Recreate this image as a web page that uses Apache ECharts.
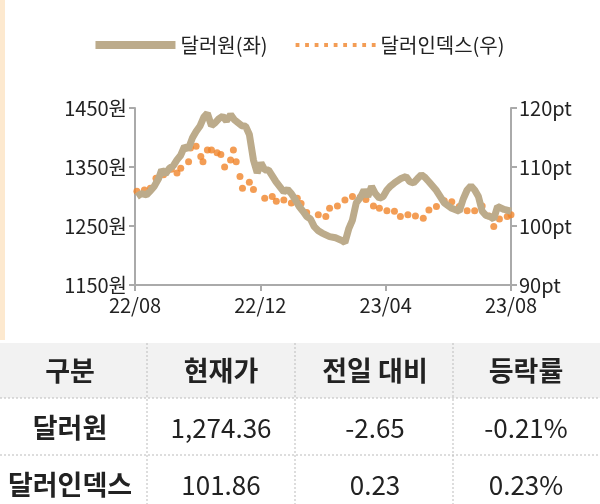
<!DOCTYPE html>
<html><head><meta charset="utf-8">
<script src="https://cdn.jsdelivr.net/npm/echarts@6/dist/echarts.min.js"></script>
<style>html,body{margin:0;padding:0;background:#fff}#c{width:600px;height:504px}</style>
</head><body><div id="c"></div>
<script>
const xTickLabels = ['22/08','22/12','23/04','23/08'];
// x positions in months from 22/08
const krwMonths = [0.06,0.2,0.37,0.5,0.61,0.75,0.85,0.97,1.1,1.22,1.34,1.46,1.58,1.7,1.83,1.95,2.07,2.2,2.31,2.44,2.56,2.68,2.8,2.92,3.05,3.17,3.29,3.41,3.53,3.65,3.78,3.9,4.02,4.14,4.26,4.5,4.75,4.87,4.99,5.11,5.24,5.36,5.48,5.6,5.72,5.85,5.97,6.09,6.21,6.4,6.58,6.7,6.82,6.94,7.06,7.19,7.31,7.43,7.55,7.67,7.8,7.92,8.04,8.16,8.28,8.47,8.65,8.77,8.89,9.01,9.14,9.26,9.38,9.62,9.87,10.11,10.35,10.47,10.6,10.72,10.84,10.96,11.08,11.2,11.33,11.45,11.57,11.78,12.0];
const krwValues = [1300,1305,1303,1310,1317,1330,1345,1338,1348,1352,1362,1370,1385,1380,1399,1410,1419,1435,1441,1420,1425,1432,1436,1428,1439,1430,1425,1420,1419,1405,1362,1340,1357,1345,1345,1325,1308,1312,1305,1295,1283,1275,1266,1262,1249,1242,1238,1235,1232,1230,1226,1222,1245,1260,1289,1298,1311,1300,1317,1305,1297,1300,1311,1318,1323,1330,1334,1325,1323,1330,1337,1332,1325,1310,1289,1280,1275,1295,1311,1318,1311,1300,1275,1268,1266,1262,1283,1278,1275];
const dxyMonths = [0.06,0.30,0.49,0.67,0.91,1.16,1.34,1.46,1.71,1.77,1.95,2.10,2.17,2.31,2.44,2.62,2.74,2.86,3.05,3.14,3.23,3.35,3.43,3.65,3.78,4.14,4.38,4.51,4.75,4.99,5.18,5.30,5.48,5.85,6.09,6.21,6.46,6.70,6.94,7.19,7.37,7.61,7.80,8.04,8.28,8.47,8.71,8.95,9.20,9.38,9.62,9.87,10.11,10.35,10.60,10.84,11.08,11.30,11.45,11.63,11.88,12.0];
const dxyValues = [105.9,106.1,106.4,108.1,108.7,109.6,109.0,109.8,110.9,113.2,113.5,111.8,110.9,112.9,112.9,112.4,112.1,110.0,111.2,112.9,110.9,108.4,106.4,107.4,106.2,104.7,105.0,104.2,104.4,103.9,104.7,103.8,102.3,101.9,101.6,103.0,103.4,104.4,105.0,104.9,104.5,103.4,103.0,102.6,102.5,101.6,101.9,101.7,101.3,102.7,103.3,104.3,104.1,103.3,102.6,102.6,103.4,101.7,99.9,101.2,101.6,101.9];
const tableHeader = ['구분','현재가','전일 대비','등락률'];
const tableRows = [['달러원','1,274.36','-2.65','-0.21%'],['달러인덱스','101.86','0.23','0.23%']];

const font = '"Noto Sans CJK KR","Noto Sans",sans-serif';
const colX = [70,221,375,526];
const g = [];
g.push({type:'rect',shape:{x:0,y:0,width:5,height:340},style:{fill:'#fde9cf'}});
g.push({type:'rect',shape:{x:0,y:343,width:600,height:55},style:{fill:'#f2f2f2'}});
[398,455].forEach(y=>g.push({type:'line',shape:{x1:0,y1:y,x2:600,y2:y},style:{stroke:'#bbb',lineWidth:1,lineDash:[2,2]}}));
[147,295,453].forEach(x=>g.push({type:'line',shape:{x1:x,y1:343,x2:x,y2:504},style:{stroke:'#bbb',lineWidth:1,lineDash:[2,2]}}));
tableHeader.forEach((t,i)=>g.push({type:'text',x:colX[i],y:371,style:{text:t,font:'bold 27px '+font,fill:'#222',align:'center',verticalAlign:'middle'}}));
tableRows.forEach((r,ri)=>r.forEach((t,i)=>g.push({type:'text',x:colX[i],y:428+ri*57,style:{text:t,font:(i===0?'bold 27px ':'26px ')+font,fill:'#222',align:'center',verticalAlign:'middle'}})));

const dots = 'path://' + [0,1,2,3,4,5,6,7,8].map(i=>'M'+(i*10)+',0h4v4h-4z').join('');
const krwData = krwMonths.map((m,i)=>[m,krwValues[i]]);
const dxyData = dxyMonths.map((m,i)=>[m,dxyValues[i]]);
const chart = echarts.init(document.getElementById('c'));
chart.setOption({
  animation:false,
  textStyle:{fontFamily:font},
  legend:{top:30,left:'center',itemWidth:80,itemHeight:8,itemGap:28,
    textStyle:{fontSize:20,color:'#222',fontFamily:font},
    data:[{name:'달러원(좌)',icon:'rect'},{name:'달러인덱스(우)',icon:dots,itemStyle:{color:'#f0842a'}}]},
  grid:{left:135,right:89,top:108,bottom:219,containLabel:false},
  xAxis:{type:'value',min:0,max:12,interval:4,
    axisLine:{show:true,lineStyle:{color:'#aaa',width:2}},
    axisTick:{show:true,length:6,lineStyle:{color:'#aaa',width:2}},
    splitLine:{show:false},
    axisLabel:{fontSize:20,color:'#222',margin:10,formatter:v=>xTickLabels[v/4]}},
  yAxis:[
    {type:'value',min:1150,max:1450,interval:100,
     axisLine:{show:true,lineStyle:{color:'#aaa',width:2}},axisTick:{show:true,length:6,lineStyle:{color:'#aaa',width:2}},
     splitLine:{show:false},axisLabel:{fontSize:20,color:'#222',margin:8,formatter:v=>v+'원'}},
    {type:'value',min:90,max:120,interval:10,position:'right',
     axisLine:{show:true,lineStyle:{color:'#aaa',width:2}},axisTick:{show:true,length:6,lineStyle:{color:'#aaa',width:2}},
     splitLine:{show:false},axisLabel:{fontSize:20,color:'#222',margin:8,formatter:v=>v+'pt'}}
  ],
  series:[
    {name:'달러원(좌)',type:'line',yAxisIndex:0,data:krwData,showSymbol:false,symbol:'none',
     itemStyle:{color:'#bcab8b'},lineStyle:{color:'#bcab8b',width:7}},
    {name:'달러인덱스(우)',type:'scatter',yAxisIndex:1,data:dxyData,symbolSize:7,
     itemStyle:{color:'#f0842a'}}
  ],
  graphic:g
});
</script></body></html>
